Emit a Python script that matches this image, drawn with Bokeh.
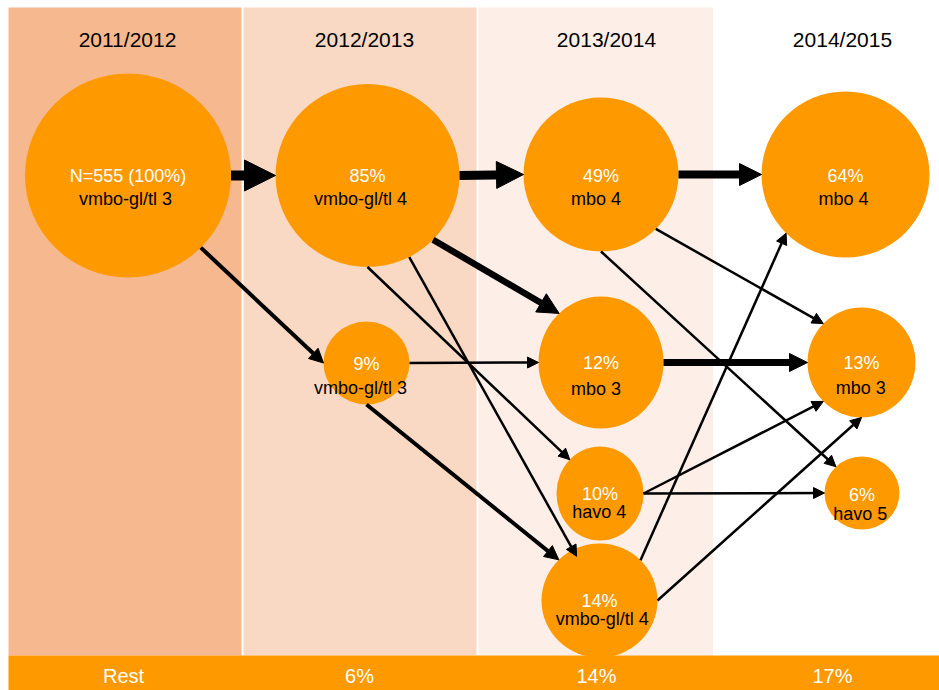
import math
from bokeh.plotting import figure
from bokeh.models import Range1d, Arrow, NormalHead
from bokeh.core.properties import value
from bokeh.embed import file_html
from bokeh.resources import INLINE

# ---------------- data ----------------
years = ["2011/2012", "2012/2013", "2013/2014", "2014/2015"]
rest_share = ["Rest", "6%", "14%", "17%"]

node_share = ["N=555 (100%)", "85%", "9%", "49%", "12%", "10%", "14%", "64%", "13%", "6%"]
node_level = ["vmbo-gl/tl 3", "vmbo-gl/tl 4", "vmbo-gl/tl 3", "mbo 4", "mbo 3",
              "havo 4", "vmbo-gl/tl 4", "mbo 4", "mbo 3", "havo 5"]
node_year = [0, 1, 1, 2, 2, 2, 2, 3, 3, 3]

flow_from = [0, 0, 1, 1, 1, 1, 2, 2, 3, 3, 3, 4, 5, 5, 6, 6]
flow_to   = [1, 2, 3, 4, 5, 6, 4, 6, 7, 8, 9, 8, 8, 9, 7, 8]

# ---------------- layout (pixels of the drawing area) ----------------
W, H = 939, 690
band_left = [8, 243, 478]
band_right = [241, 476, 712.5]
band_colors = ["#F5B88F", "#F9D9C3", "#FDEFE8"]
band_top = 7
bar_top = 655
bar_left = 8

header_x = [127, 364, 606, 842]
header_mid = 38.5
rest_x = [123, 359, 596, 832]
rest_mid = 675.5

node_cx = [127.5, 367, 366, 600.5, 600.5, 599.5, 599, 845, 861, 861.5]
node_cy = [175, 175, 362.5, 174, 362, 493, 600, 174, 362, 492.5]
node_rx = [103, 92, 43, 77.5, 62.5, 43.5, 58, 84, 54, 37.5]
node_ry = [102, 91.5, 41.5, 77, 66, 47, 57, 83, 55, 36.5]
share_dy = [0.8, 0.8, 0.5, 1, 0.5, 0.7, 0.7, 1, 0.3, 1.8]
level_dx = [-2.5, -7, -6, -5, -5, -0.7, 2.7, -2, -0.7, -1.8]
level_dy = [23, 23, 25, 24, 26, 18.7, 18.3, 24, 25.5, 20.8]

# per flow: source angle, target angle, target radius fraction, line width, head size
flow_a0 = [0, 45, 0, 44.6, 90, 63, 0, 90, 0, 45, 90, 0, 0, 0, 315, 0]
flow_a1 = [180, 180, 180, 228, 226, 243, 180, 225.5, 180, 225, 226, 180, 135, 180, 135, 90]
flow_f1 = [1, 1, 1, 1, 1, 0.87, 1, 1, 1, 1, 1, 1, 1, 1, 1, 1]
flow_lw = [10, 4, 9, 6.5, 2.5, 2.5, 2.5, 4, 8, 2.5, 2.5, 7, 2.5, 2.5, 2.5, 2.5]
flow_hs = [31, 14, 27, 21, 11, 11, 11, 14, 22, 11, 11, 18, 11, 11, 11, 11]

ORANGE = "#FF9900"
FONT = value("Liberation Sans")

p = figure(width=W, height=H, x_range=Range1d(0, W), y_range=Range1d(H, 0),
           toolbar_location=None, output_backend="svg", min_border=0,
           x_axis_type=None, y_axis_type=None)
p.outline_line_color = None
p.grid.visible = False
p.background_fill_color = "white"
p.border_fill_color = "white"

# background bands per school year
p.quad(left=band_left, right=band_right, top=[band_top] * 3, bottom=[bar_top] * 3,
       fill_color=band_colors, line_color=None)

# headers
p.text(x=header_x, y=[header_mid] * 4, text=years, text_align="center",
       text_baseline="middle", text_font=FONT, text_font_size="21px",
       text_color="#000000")

# nodes
p.ellipse(x=node_cx, y=node_cy, width=[2 * r for r in node_rx],
          height=[2 * r for r in node_ry], fill_color=ORANGE, line_color=None)

p.text(x=node_cx, y=[c + d for c, d in zip(node_cy, share_dy)], text=node_share,
       text_align="center", text_baseline="middle", text_font=FONT,
       text_font_size="18px", text_color="white")
p.text(x=[c + d for c, d in zip(node_cx, level_dx)],
       y=[c + d for c, d in zip(node_cy, level_dy)], text=node_level,
       text_align="center", text_baseline="middle", text_font=FONT,
       text_font_size="18px", text_color="#000000")

# flows
for i, (s, t) in enumerate(zip(flow_from, flow_to)):
    a0 = math.radians(flow_a0[i])
    a1 = math.radians(flow_a1[i])
    xs = node_cx[s] + node_rx[s] * math.cos(a0)
    ys = node_cy[s] + node_ry[s] * math.sin(a0)
    xe = node_cx[t] + node_rx[t] * math.cos(a1) * flow_f1[i]
    ye = node_cy[t] + node_ry[t] * math.sin(a1) * flow_f1[i]
    p.add_layout(Arrow(x_start=xs, y_start=ys, x_end=xe, y_end=ye,
                       line_width=flow_lw[i], line_color="black",
                       end=NormalHead(size=flow_hs[i], fill_color="black",
                                      line_color="black", line_width=1)))

# bottom bar with the rest shares
p.quad(left=[bar_left], right=[W + 2], top=[bar_top], bottom=[H + 2], fill_color=ORANGE,
       line_color=None, level="overlay")
p.text(x=rest_x, y=[rest_mid] * 4, text=rest_share, text_align="center",
       text_baseline="middle", text_font=FONT, text_font_size="20px",
       text_color="white", level="overlay")

open("out.html", "w").write(file_html(p, INLINE))
